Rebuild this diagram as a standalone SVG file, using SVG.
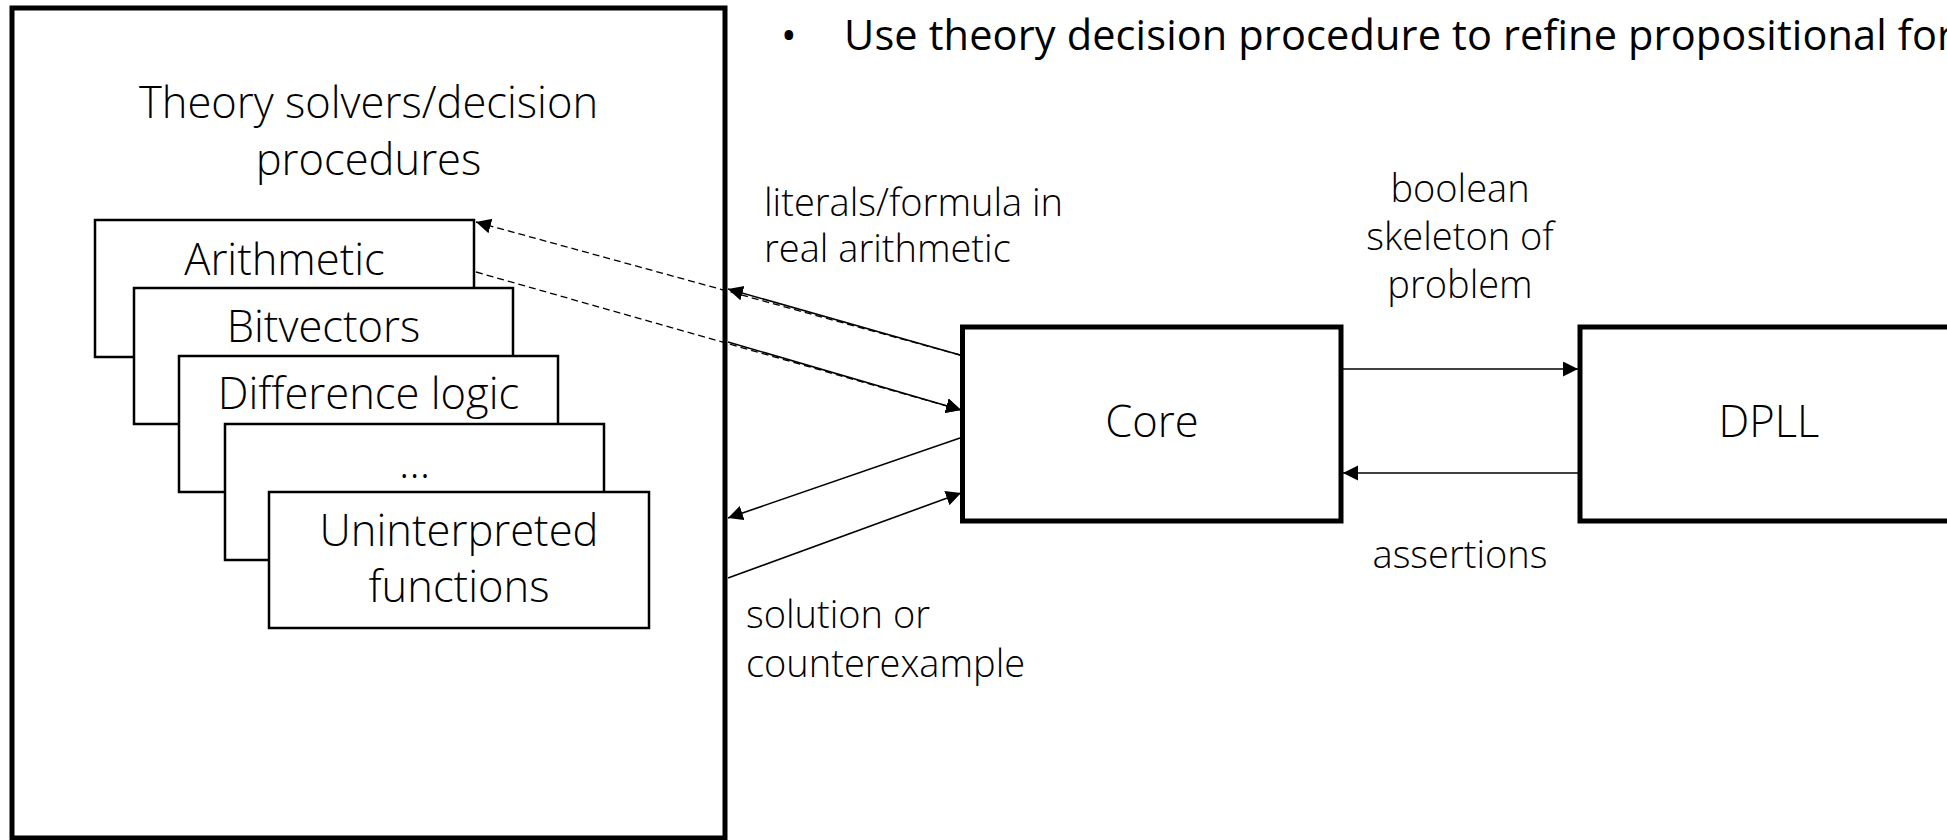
<svg xmlns="http://www.w3.org/2000/svg" width="1947" height="840" viewBox="0 0 1947 840">
<style>
text{font-family:"Open Sans","Liberation Sans",sans-serif;fill:#000}
.big{font-size:43.5px;font-weight:300;text-anchor:middle}
.lbl{font-size:38px;font-weight:300}
.mid{text-anchor:middle}
.bul{font-size:41.5px;font-weight:400}
.frame{fill:#fff;stroke:#000;stroke-width:5}
.sub{fill:#fff;stroke:#000;stroke-width:2.5}
.ln{stroke:#000;stroke-width:1.6;fill:none}
.dash{stroke:#000;stroke-width:1.3;fill:none;stroke-dasharray:7 4}
</style>
<defs>
<marker id="ah" markerUnits="userSpaceOnUse" markerWidth="16" markerHeight="16" refX="15" refY="7.5" orient="auto">
<path d="M0,0 L15,7.5 L0,15 z" fill="#000" stroke="none"/>
</marker>
</defs>
<rect width="1947" height="840" fill="#fff"/>
<g id="theory-solvers">
<rect class="frame" x="12" y="8" width="713" height="830"/>
<text class="big" x="368.5" y="118">Theory solvers/decision</text>
<text class="big" x="368.5" y="175">procedures</text>
</g>
<g id="arithmetic">
<rect class="sub" x="95" y="220" width="379" height="137"/>
<text class="big" x="284.5" y="275">Arithmetic</text>
</g>
<g id="bitvectors">
<rect class="sub" x="134" y="288" width="379" height="136"/>
<text class="big" x="323.5" y="342">Bitvectors</text>
</g>
<g id="difference-logic">
<rect class="sub" x="179" y="356" width="379" height="136"/>
<text class="big" x="368.5" y="409">Difference logic</text>
</g>
<g id="ellipsis">
<rect class="sub" x="225" y="424" width="379" height="136"/>
<text class="big" x="414.5" y="478">…</text>
</g>
<g id="uninterpreted-functions">
<rect class="sub" x="269" y="492" width="380" height="136"/>
<text class="big" x="459" y="546">Uninterpreted</text>
<text class="big" x="459" y="602">functions</text>
</g>
<g id="core">
<rect class="frame" x="962.5" y="327" width="378.5" height="194"/>
<text class="big" x="1152" y="437">Core</text>
</g>
<g id="dpll">
<rect class="frame" x="1580" y="327" width="380" height="194"/>
<text class="big" x="1769" y="437">DPLL</text>
</g>
<g id="connectors">
<line class="dash" x1="960" y1="355" x2="476" y2="222" marker-end="url(#ah)"/>
<line class="ln" x1="960" y1="355" x2="728" y2="289" marker-end="url(#ah)"/>
<line class="dash" x1="476" y1="272" x2="961" y2="410" marker-end="url(#ah)"/>
<line class="ln" x1="728" y1="342" x2="961" y2="410" marker-end="url(#ah)"/>
<line class="ln" x1="960" y1="438" x2="728" y2="518" marker-end="url(#ah)"/>
<line class="ln" x1="728" y1="578" x2="961" y2="493" marker-end="url(#ah)"/>
<line class="ln" x1="1343" y1="369" x2="1578" y2="369" marker-end="url(#ah)"/>
<line class="ln" x1="1578" y1="473" x2="1343" y2="473" marker-end="url(#ah)"/>
</g>
<g id="labels">
<text class="lbl" x="764" y="216">literals/formula in</text>
<text class="lbl" x="764" y="262">real arithmetic</text>
<text class="lbl mid" x="1460" y="202">boolean</text>
<text class="lbl mid" x="1460" y="250">skeleton of</text>
<text class="lbl mid" x="1460" y="298">problem</text>
<text class="lbl mid" x="1460" y="568">assertions</text>
<text class="lbl" x="746" y="628">solution or</text>
<text class="lbl" x="746" y="677">counterexample</text>
</g>
<g id="bullet">
<text class="bul" x="781" y="50">•</text>
<text class="bul" x="844" y="50" textLength="1110">Use theory decision procedure to refine propositional for</text>
</g>
</svg>
